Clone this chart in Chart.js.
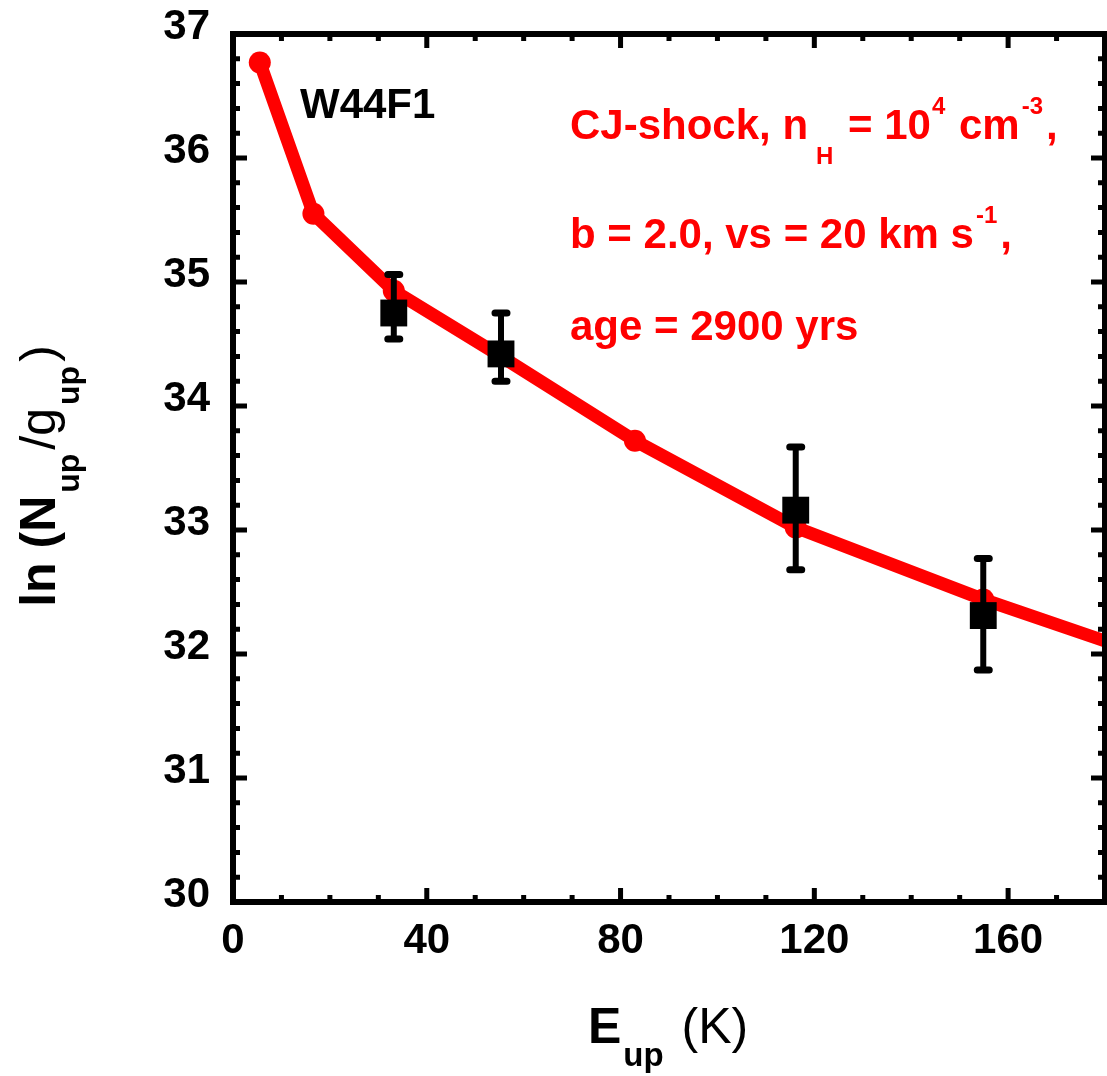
<!DOCTYPE html>
<html>
<head>
<meta charset="utf-8">
<script src="https://cdn.jsdelivr.net/npm/chart.js@4/dist/chart.umd.min.js"></script>
<style>
  html, body { margin: 0; padding: 0; background: #fff; overflow: hidden; }
  #wrap { width: 1107px; height: 1076px; position: relative; }
  canvas { display: block; }
</style>
</head>
<body>
<div id="wrap"><canvas id="c" width="1107" height="1076"></canvas></div>
<script>
// CO rotational ladder: model curve (CJ-shock) and observed column densities
const modelEup = [5.53, 16.6, 33.19, 55.32, 82.97, 116.16, 154.87, 199.11];
const modelLnN = [36.77, 35.55, 34.93, 34.40, 33.72, 33.02, 32.44, 31.85];

const obsEup = [33.19, 55.32, 116.16, 154.87];
const obsLnN = [34.75, 34.42, 33.16, 32.31];
const obsErrUp = [0.31, 0.33, 0.51, 0.46];
const obsErrDown = [0.21, 0.22, 0.48, 0.44];

const xTickValues = [0, 40, 80, 120, 160];
const yTickValues = [30, 31, 32, 33, 34, 35, 36, 37];

const RED = '#ff0000';
const FONT = '"Liberation Sans", Arial, Helvetica, sans-serif';

function font(size, bold) {
  return (bold ? 'bold ' : '') + size + 'px ' + FONT;
}

// Draw a run of text pieces (with optional sub/superscript offsets) left to right
function drawRich(ctx, x, y, parts, color) {
  ctx.save();
  ctx.fillStyle = color;
  ctx.textBaseline = 'alphabetic';
  ctx.textAlign = 'left';
  let cx = x;
  for (const p of parts) {
    ctx.font = font(p.size, p.bold !== false);
    cx += p.gap || 0;
    ctx.fillText(p.t, cx, y + (p.dy || 0));
    cx += ctx.measureText(p.t).width;
  }
  ctx.restore();
  return cx;
}

function richWidth(ctx, parts) {
  let w = 0;
  for (const p of parts) {
    ctx.font = font(p.size, p.bold !== false);
    w += ctx.measureText(p.t).width + (p.gap || 0);
  }
  return w;
}

// Frame and inward ticks on all four sides, plus error bars
const framePlugin = {
  id: 'frame',
  afterDatasetsDraw(chart) {
    const { ctx, chartArea: a, scales } = chart;
    const xs = scales.x, ys = scales.y;
    ctx.save();
    ctx.strokeStyle = '#000';
    ctx.lineCap = 'butt';
    ctx.lineWidth = 5;
    for (let v = 10; v < 180; v += 10) {
      const px = xs.getPixelForValue(v);
      const len = (v % 40 === 0) ? 14 : 7;
      ctx.beginPath();
      ctx.moveTo(px, a.bottom); ctx.lineTo(px, a.bottom - len);
      ctx.moveTo(px, a.top); ctx.lineTo(px, a.top + len);
      ctx.stroke();
    }
    for (let i = 1; i < 35; i++) {
      const v = 30 + i * 0.2;
      const py = ys.getPixelForValue(v);
      const len = (i % 5 === 0) ? 14 : 7;
      ctx.beginPath();
      ctx.moveTo(a.left, py); ctx.lineTo(a.left + len, py);
      ctx.moveTo(a.right, py); ctx.lineTo(a.right - len, py);
      ctx.stroke();
    }
    ctx.lineWidth = 6;
    ctx.strokeRect(a.left, a.top, a.right - a.left, a.bottom - a.top);
    ctx.restore();

    ctx.save();
    ctx.strokeStyle = '#000';
    for (let i = 0; i < obsEup.length; i++) {
      const px = xs.getPixelForValue(obsEup[i]);
      const top = ys.getPixelForValue(obsLnN[i] + obsErrUp[i]);
      const bot = ys.getPixelForValue(obsLnN[i] - obsErrDown[i]);
      ctx.lineWidth = 6;
      ctx.lineCap = 'butt';
      ctx.beginPath();
      ctx.moveTo(px, top); ctx.lineTo(px, bot);
      ctx.stroke();
      ctx.lineWidth = 7;
      ctx.lineCap = 'round';
      ctx.beginPath();
      ctx.moveTo(px - 6, top); ctx.lineTo(px + 6, top);
      ctx.moveTo(px - 6, bot); ctx.lineTo(px + 6, bot);
      ctx.stroke();
    }
    ctx.restore();
  },
  afterDraw(chart) {
    const ctx = chart.ctx;
    drawRich(ctx, 300, 118, [{ t: 'W44F1', size: 42 }], '#000');
    drawRich(ctx, 570, 139, [
      { t: 'CJ-shock, n', size: 42 },
      { t: 'H', size: 24, dy: 25, gap: 8 },
      { t: ' = 10', size: 42, gap: 3 },
      { t: '4', size: 24, dy: -25, gap: 1 },
      { t: ' cm', size: 42, gap: 2 },
      { t: '-3', size: 24, dy: -25, gap: 2 },
      { t: ',', size: 42, gap: 3 }
    ], RED);
    drawRich(ctx, 570, 248, [
      { t: 'b = 2.0, vs = 20 km s', size: 42 },
      { t: '-1', size: 24, dy: -25, gap: 2 },
      { t: ',', size: 42, gap: 3 }
    ], RED);
    drawRich(ctx, 570, 340, [{ t: 'age = 2900 yrs', size: 42 }], RED);

    // x axis title
    drawRich(ctx, 588, 1043, [
      { t: 'E', size: 50 },
      { t: 'up', size: 33, dy: 23, gap: 2 },
      { t: ' (K)', size: 50, bold: false, gap: 4 }
    ], '#000');

    // y axis title, rotated to read upward
    ctx.save();
    ctx.translate(55, 0);
    ctx.rotate(-Math.PI / 2);
    const parts = [
      { t: 'ln (N', size: 50 },
      { t: 'up', size: 32, dy: 24, gap: 3 },
      { t: '/g', size: 50, bold: false, gap: 4 },
      { t: 'up', size: 32, dy: 24, gap: 3 },
      { t: ')', size: 50, bold: false, gap: 4 }
    ];
    const w = richWidth(ctx, parts);
    drawRich(ctx, -476 - w / 2, 0, parts, '#000');
    ctx.restore();
  }
};

const ctx = document.getElementById('c').getContext('2d');
new Chart(ctx, {
  type: 'line',
  data: {
    datasets: [
      {
        label: 'observed',
        data: obsEup.map((x, i) => ({ x, y: obsLnN[i] })),
        showLine: false,
        pointStyle: 'rect',
        pointRadius: 19,
        pointHoverRadius: 19,
        pointBackgroundColor: '#000',
        pointBorderColor: '#000',
        pointBorderWidth: 0,
        order: 1
      },
      {
        label: 'CJ-shock model',
        data: modelEup.map((x, i) => ({ x, y: modelLnN[i] })),
        borderColor: RED,
        borderWidth: 13,
        backgroundColor: RED,
        pointRadius: 11,
        pointHoverRadius: 11,
        pointBackgroundColor: RED,
        pointBorderWidth: 0,
        tension: 0,
        borderJoinStyle: 'round',
        order: 2
      }
    ]
  },
  options: {
    responsive: false,
    maintainAspectRatio: false,
    animation: false,
    events: [],
    devicePixelRatio: 1,
    layout: { autoPadding: false, padding: { top: 34, right: 2, left: 0, bottom: 0 } },
    plugins: {
      legend: { display: false },
      tooltip: { enabled: false },
      title: { display: false }
    },
    scales: {
      x: {
        type: 'linear',
        min: 0,
        max: 180,
        border: { display: false },
        grid: { display: false, drawTicks: false },
        afterBuildTicks(scale) { scale.ticks = xTickValues.map(v => ({ value: v })); },
        afterFit(scale) {
          scale.height = 174;
          scale.paddingLeft = 0;
          scale.paddingRight = 0;
        },
        ticks: {
          padding: 14,
          maxRotation: 0,
          color: '#000',
          font: { family: FONT, weight: 'bold', size: 42 }
        }
      },
      y: {
        type: 'linear',
        min: 30,
        max: 37,
        border: { display: false },
        grid: { display: false, drawTicks: false },
        afterBuildTicks(scale) { scale.ticks = yTickValues.map(v => ({ value: v })); },
        afterFit(scale) {
          scale.width = 233;
          scale.paddingTop = 0;
          scale.paddingBottom = 0;
        },
        ticks: {
          padding: 23,
          labelOffset: -7,
          color: '#000',
          font: { family: FONT, weight: 'bold', size: 42 }
        }
      }
    }
  },
  plugins: [framePlugin]
});
</script>
</body>
</html>
